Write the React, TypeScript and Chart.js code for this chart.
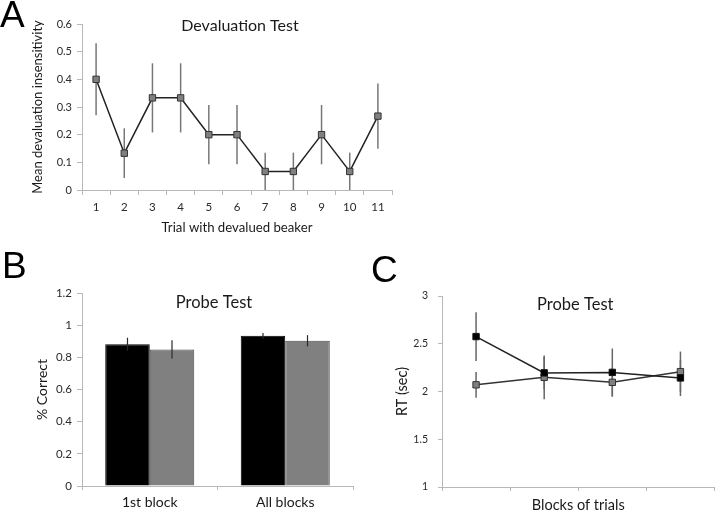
import React, { useEffect, useRef } from 'react';
import { Chart, registerables } from 'chart.js';

Chart.register(...registerables);
Chart.defaults.font.family = 'Lato, "Open Sans", sans-serif';

// ---------- Panel A data ----------
const TRIALS = ['1', '2', '3', '4', '5', '6', '7', '8', '9', '10', '11'];
const DEVAL_MEAN = [0.4, 0.133, 0.333, 0.333, 0.2, 0.2, 0.067, 0.067, 0.2, 0.067, 0.267];
const DEVAL_SEM = [0.13, 0.09, 0.125, 0.125, 0.107, 0.107, 0.068, 0.068, 0.107, 0.068, 0.118];
const A_TITLE = 'Devaluation Test';
const A_YTITLE = 'Mean devaluation insensitivity';
const A_XTITLE = 'Trial with devalued beaker';

// ---------- Panel B data ----------
const PROBE_BLOCKS = ['1st block', 'All blocks'];
const PROBE_BLACK = [0.882, 0.934];
const PROBE_BLACK_SEM = [0.04, 0.018];
const PROBE_GRAY = [0.849, 0.903];
const PROBE_GRAY_SEM = [0.057, 0.035];
const B_TITLE = 'Probe Test';
const B_YTITLE = '% Correct';

// ---------- Panel C data ----------
const RT_BLOCKS = ['1', '2', '3', '4'];
const RT_BLACK = [2.575, 2.195, 2.2, 2.142];
const RT_BLACK_SEM = [0.255, 0.17, 0.25, 0.19];
const RT_GRAY = [2.07, 2.148, 2.096, 2.208];
const RT_GRAY_SEM = [0.135, 0.23, 0.15, 0.21];
const C_TITLE = 'Probe Test';
const C_YTITLE = 'RT (sec)';
const C_XTITLE = 'Blocks of trials';

const AXIS_COLOR = '#b8b8b8';
const TICK_TEXT = '#2a2a2a';
const TITLE_TEXT = '#1a1a1a';

function drawErrors(chart: any, opts: any) {
  const { ctx } = chart;
  const yScale = chart.scales.y;
  ctx.save();
  ctx.strokeStyle = opts.color;
  ctx.lineWidth = opts.width;
  chart.data.datasets.forEach((ds: any, di: number) => {
    const errs = opts.errors[di];
    if (!errs) return;
    const meta = chart.getDatasetMeta(di);
    meta.data.forEach((el: any, i: number) => {
      const v = ds.data[i];
      const e = errs[i];
      const yTop = yScale.getPixelForValue(Math.min(v + e, yScale.max));
      const yBot = yScale.getPixelForValue(Math.max(v - e, yScale.min));
      ctx.beginPath();
      ctx.moveTo(el.x, yTop);
      ctx.lineTo(el.x, yBot);
      ctx.stroke();
    });
  });
  ctx.restore();
}

const errorBarsPlugin = {
  id: 'errorBars',
  beforeDatasetsDraw(chart: any, _args: any, opts: any) {
    if (opts.phase === 'before') drawErrors(chart, opts);
  },
  afterDatasetsDraw(chart: any, _args: any, opts: any) {
    if (opts.phase === 'after') drawErrors(chart, opts);
  },
};

const panelTitlePlugin = {
  id: 'panelTitle',
  afterDraw(chart: any, _args: any, opts: any) {
    const { ctx, chartArea } = chart;
    ctx.save();
    ctx.fillStyle = TITLE_TEXT;
    ctx.font = `${opts.size}px Lato, "Open Sans", sans-serif`;
    ctx.textAlign = 'center';
    ctx.textBaseline = 'middle';
    ctx.fillText(opts.text, (chartArea.left + chartArea.right) / 2 + opts.dx, chartArea.top + opts.dy);
    ctx.restore();
  },
};

const plainNumber = (v: any) => `${+Number(v).toFixed(2)}`;

function ChartBox({ config, left, top, width, height }: any) {
  const ref = useRef<HTMLCanvasElement>(null);
  useEffect(() => {
    const chart = new Chart(ref.current as HTMLCanvasElement, config);
    return () => chart.destroy();
  }, []);
  return (
    <canvas
      ref={ref}
      width={width}
      height={height}
      style={{ position: 'absolute', left, top, width, height }}
    />
  );
}

const configA: any = {
  type: 'line',
  data: {
    labels: TRIALS,
    datasets: [
      {
        data: DEVAL_MEAN,
        borderColor: '#222',
        borderWidth: 1.5,
        pointStyle: 'rect',
        pointRadius: 4.5,
        pointBackgroundColor: '#808080',
        pointBorderColor: '#333',
        pointBorderWidth: 1,
        tension: 0,
      },
    ],
  },
  plugins: [errorBarsPlugin, panelTitlePlugin],
  options: {
    responsive: false,
    animation: false,
    layout: { padding: { top: 24, right: 8, left: 0, bottom: 0 } },
    plugins: {
      legend: { display: false },
      tooltip: { enabled: false },
      errorBars: { phase: 'before', errors: [DEVAL_SEM], color: '#777', width: 1.5 },
      panelTitle: { text: A_TITLE, size: 16, dx: 3, dy: 2 },
    },
    scales: {
      x: {
        type: 'category',
        offset: true,
        grid: { display: true, drawOnChartArea: false, drawTicks: true, tickLength: 5, offset: true, color: AXIS_COLOR },
        border: { display: true, color: AXIS_COLOR, width: 1 },
        ticks: { color: TICK_TEXT, font: { size: 11.5 }, padding: 5, autoSkip: false, maxRotation: 0 },
        title: { display: true, text: A_XTITLE, color: TITLE_TEXT, font: { size: 13.2 }, padding: { top: 0, bottom: 9 } },
        afterFit: (s: any) => { s.height = 55; },
      },
      y: {
        min: 0,
        max: 0.6,
        grid: { display: true, drawOnChartArea: false, drawTicks: true, tickLength: 5, color: AXIS_COLOR },
        border: { display: true, color: AXIS_COLOR, width: 1 },
        ticks: { stepSize: 0.1, color: TICK_TEXT, font: { size: 11 }, padding: 5, callback: plainNumber },
        title: { display: true, text: A_YTITLE, color: TITLE_TEXT, font: { size: 13 }, padding: { top: 30, bottom: 0 } },
        afterFit: (s: any) => { s.width = 82; },
      },
    },
  },
};

const configB: any = {
  type: 'bar',
  data: {
    labels: PROBE_BLOCKS,
    datasets: [
      {
        data: PROBE_BLACK,
        backgroundColor: '#000',
        borderColor: '#000',
        borderWidth: 1,
        categoryPercentage: 0.657,
        barPercentage: 1,
      },
      {
        data: PROBE_GRAY,
        backgroundColor: '#808080',
        borderColor: '#4a4a4a',
        borderWidth: 1,
        categoryPercentage: 0.657,
        barPercentage: 1,
      },
    ],
  },
  plugins: [errorBarsPlugin, panelTitlePlugin],
  options: {
    responsive: false,
    animation: false,
    layout: { padding: { top: 43, right: 17, left: 0, bottom: 0 } },
    plugins: {
      legend: { display: false },
      tooltip: { enabled: false },
      errorBars: { phase: 'after', errors: [PROBE_BLACK_SEM, PROBE_GRAY_SEM], color: '#2a2a2a', width: 1.2 },
      panelTitle: { text: B_TITLE, size: 16.5, dx: -3.5, dy: 10 },
    },
    scales: {
      x: {
        grid: { display: true, drawOnChartArea: false, drawTicks: true, tickLength: 4, offset: true, color: AXIS_COLOR },
        border: { display: true, color: AXIS_COLOR, width: 1 },
        ticks: { color: TITLE_TEXT, font: { size: 14 }, padding: 4, maxRotation: 0 },
        afterFit: (s: any) => { s.height = 26; },
      },
      y: {
        min: 0,
        max: 1.2,
        grid: { display: true, drawOnChartArea: false, drawTicks: true, tickLength: 5, color: AXIS_COLOR },
        border: { display: true, color: AXIS_COLOR, width: 1 },
        ticks: { stepSize: 0.2, color: TICK_TEXT, font: { size: 11.5 }, padding: 5, callback: plainNumber },
        title: { display: true, text: B_YTITLE, color: TITLE_TEXT, font: { size: 14 }, padding: { top: 34, bottom: 0 } },
        afterFit: (s: any) => { s.width = 82; },
      },
    },
  },
};

const configC: any = {
  type: 'line',
  data: {
    labels: RT_BLOCKS,
    datasets: [
      {
        data: RT_BLACK,
        borderColor: '#222',
        borderWidth: 1.5,
        pointStyle: 'rect',
        pointRadius: 4.5,
        pointBackgroundColor: '#000',
        pointBorderColor: '#111',
        pointBorderWidth: 1,
        tension: 0,
      },
      {
        data: RT_GRAY,
        borderColor: '#333',
        borderWidth: 1.5,
        pointStyle: 'rect',
        pointRadius: 4.5,
        pointBackgroundColor: '#808080',
        pointBorderColor: '#333',
        pointBorderWidth: 1,
        tension: 0,
      },
    ],
  },
  plugins: [errorBarsPlugin, panelTitlePlugin],
  options: {
    responsive: false,
    animation: false,
    layout: { padding: { top: 46, right: 2, left: 0, bottom: 0 } },
    plugins: {
      legend: { display: false },
      tooltip: { enabled: false },
      errorBars: { phase: 'before', errors: [RT_BLACK_SEM, RT_GRAY_SEM], color: '#666', width: 1.5 },
      panelTitle: { text: C_TITLE, size: 16.5, dx: -3, dy: 9 },
    },
    scales: {
      x: {
        type: 'category',
        offset: true,
        grid: { display: true, drawOnChartArea: false, drawTicks: true, tickLength: 4, offset: true, color: AXIS_COLOR },
        border: { display: true, color: AXIS_COLOR, width: 1 },
        ticks: { display: false },
        title: { display: true, text: C_XTITLE, color: TITLE_TEXT, font: { size: 14.5 }, padding: { top: 0, bottom: 0 } },
        afterFit: (s: any) => { s.height = 27; },
      },
      y: {
        min: 1,
        max: 3,
        grid: { display: true, drawOnChartArea: false, drawTicks: true, tickLength: 4, color: AXIS_COLOR },
        border: { display: true, color: AXIS_COLOR, width: 1 },
        ticks: { stepSize: 0.5, color: TICK_TEXT, font: { size: 10.5 }, padding: 10, callback: plainNumber },
        title: { display: true, text: C_YTITLE, color: TITLE_TEXT, font: { size: 14.5 }, padding: { top: 34, bottom: 0 } },
        afterFit: (s: any) => { s.width = 82; },
      },
    },
  },
};

const letterStyle: any = {
  position: 'absolute',
  fontFamily: '"Liberation Sans", Arial, sans-serif',
  fontSize: 37,
  lineHeight: 'normal',
  color: '#000',
  margin: 0,
};

export default function App() {
  return (
    <div
      style={{
        position: 'absolute',
        left: 0,
        top: 0,
        width: 720,
        height: 512,
        overflow: 'hidden',
        background: '#fff',
      }}
    >
      <ChartBox config={configA} left={0} top={0} width={400} height={245} />
      <ChartBox config={configB} left={0} top={250} width={370} height={262} />
      <ChartBox config={configC} left={360} top={250} width={360} height={264} />
      <div style={{ ...letterStyle, left: 0, top: -6 }}>A</div>
      <div style={{ ...letterStyle, left: 2, top: 245 }}>B</div>
      <div style={{ ...letterStyle, left: 371, top: 249 }}>C</div>
    </div>
  );
}
